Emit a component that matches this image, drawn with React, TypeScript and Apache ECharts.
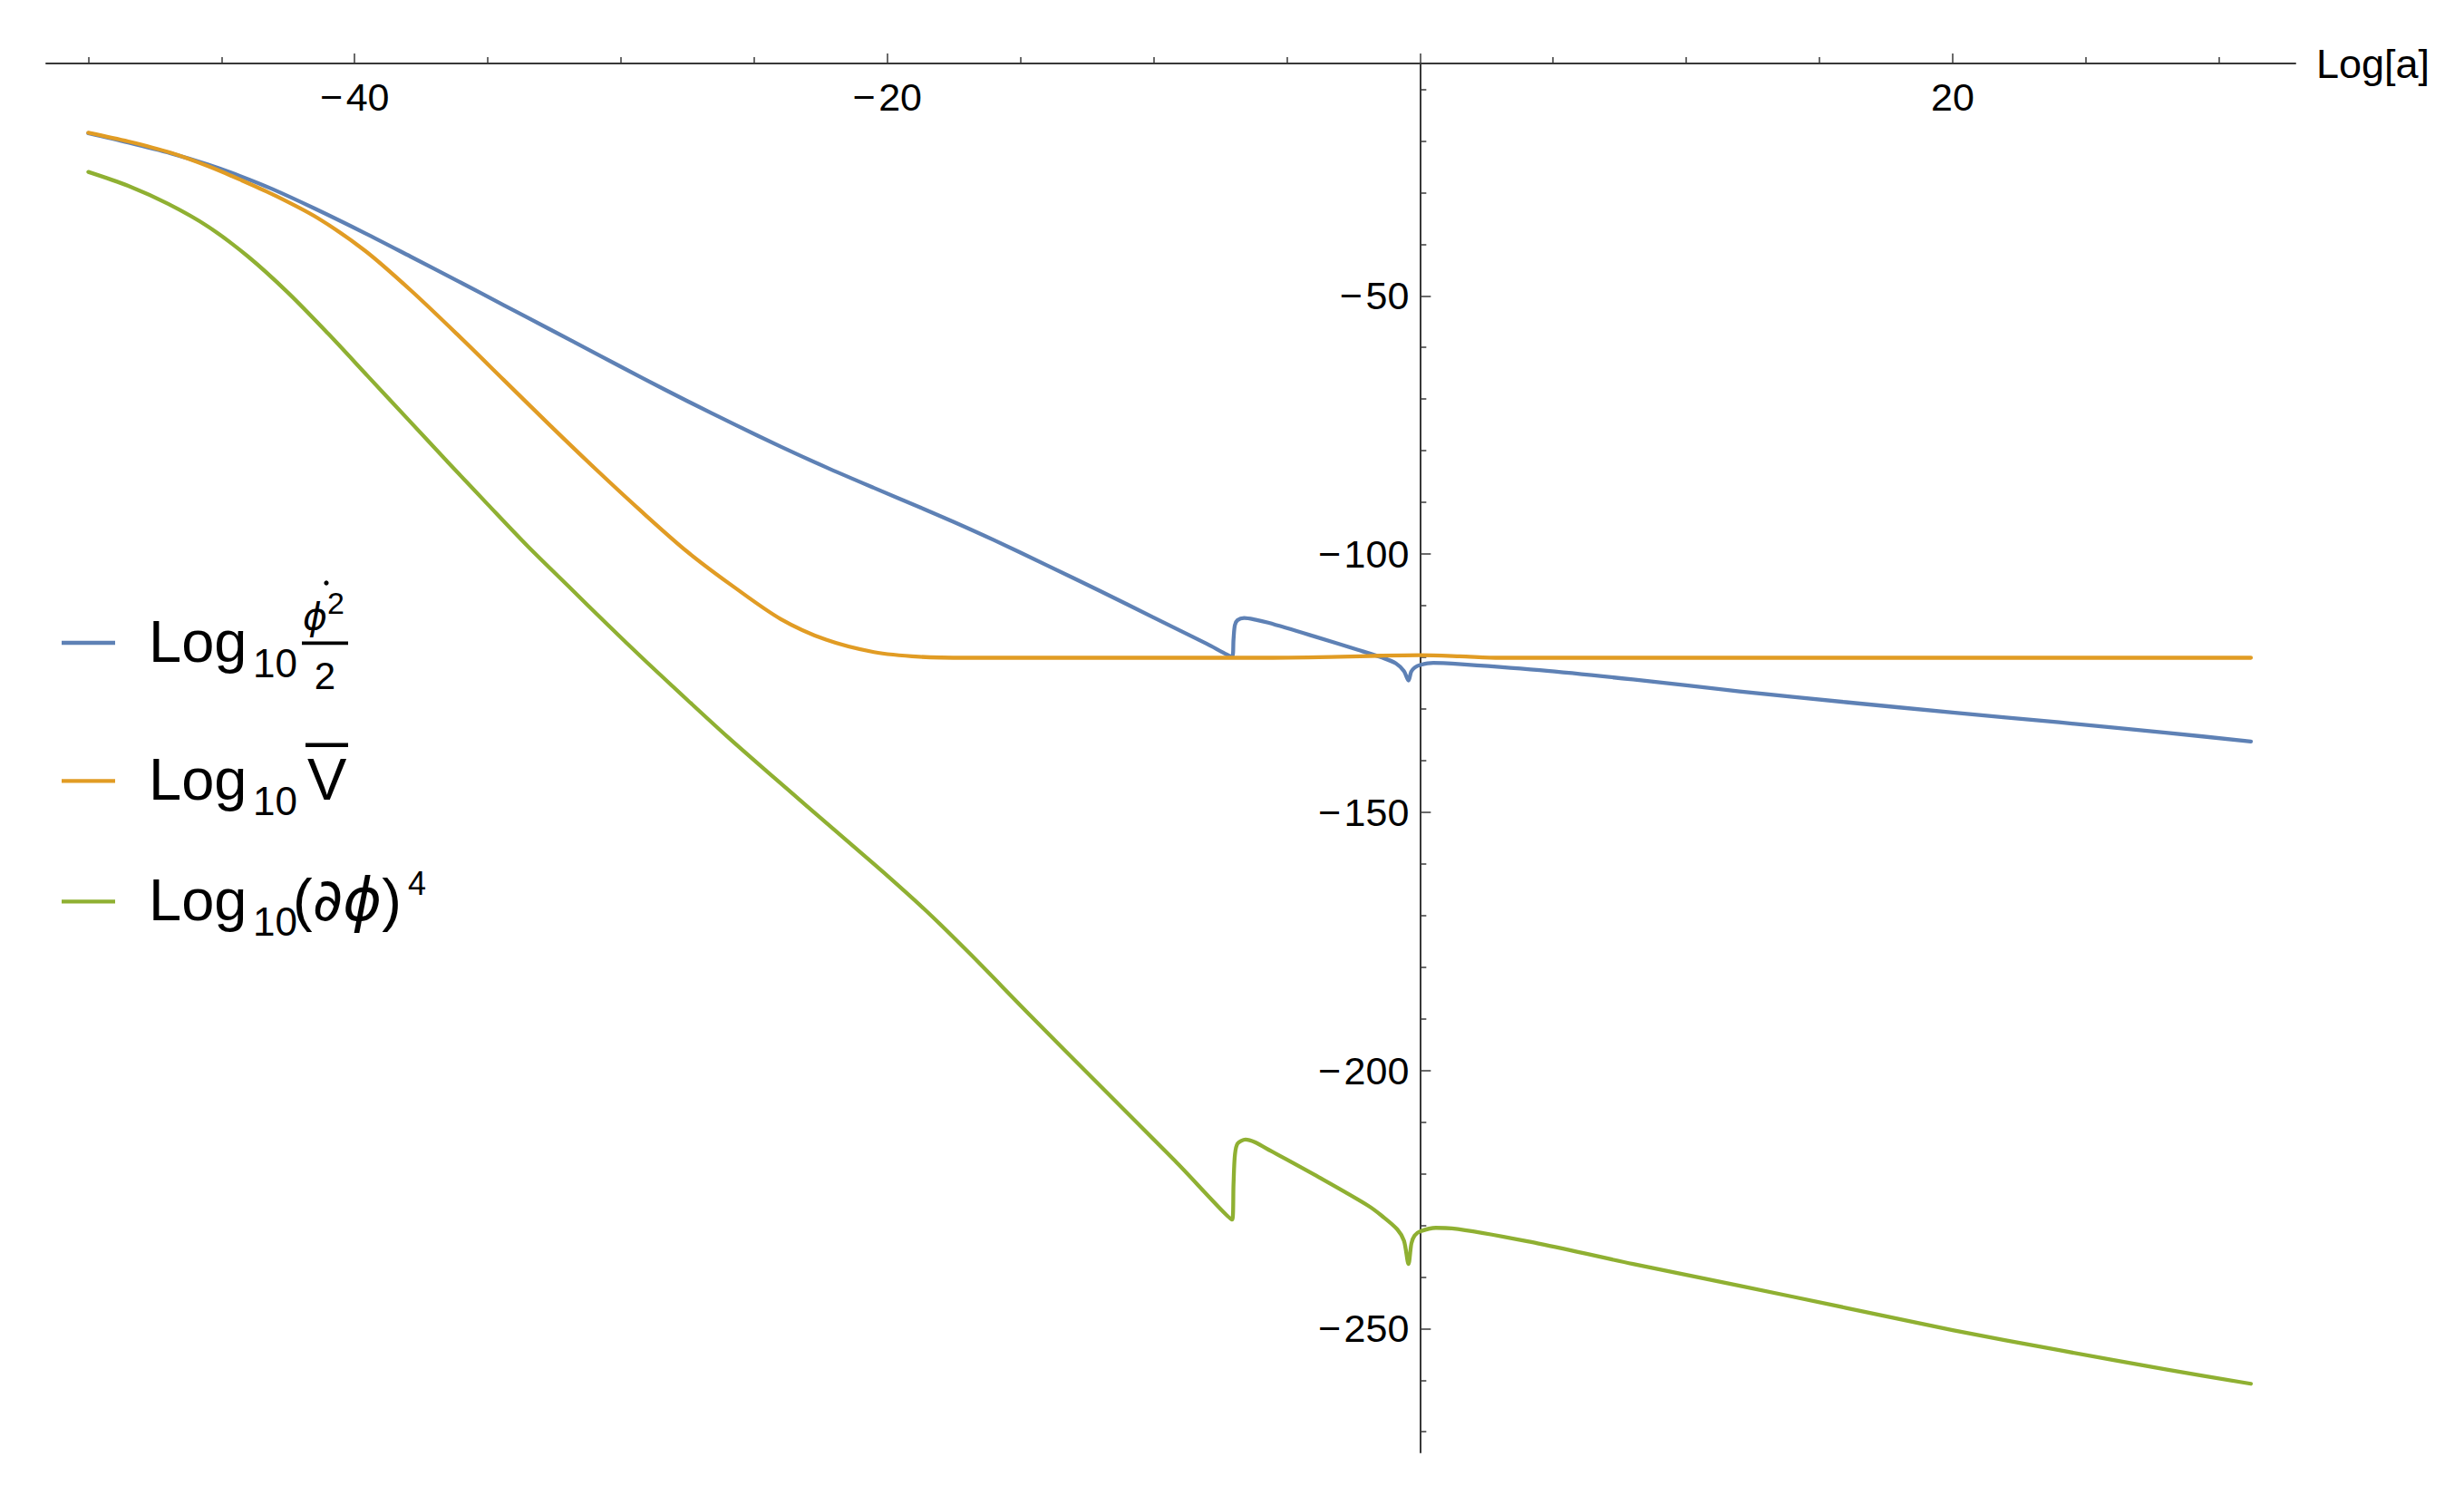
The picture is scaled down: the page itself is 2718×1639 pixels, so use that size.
import React, { useEffect, useRef } from "react";
import * as echarts from "echarts";

const FONT = "'Liberation Sans', Arial, Helvetica, sans-serif";
const MATH_FONT = "'DejaVu Sans', 'Liberation Sans', sans-serif";

// ---- data ----
const blueX = [-50, -48.5, -46.9, -45.5, -44.3, -43.1, -41.5, -39.6, -37.9, -36.1, -34.4, -32.7, -30.9, -29.2, -27.5, -25.7, -24, -22.3, -20.5, -18.8, -17.5, -16, -14, -12, -10, -8, -7.05, -7, -6.95, -6.85, -6.6, -6.2, -5.7, -4, -2.3, -1.4, -0.9, -0.6, -0.43, -0.33, -0.2, 0, 0.5, 1.2, 4.5, 8, 12, 16, 20, 24, 28, 31.2];
const blueY = [-18.5, -20.3, -22.4, -24.6, -26.8, -29.3, -33.1, -37.9, -42.4, -47.2, -51.8, -56.4, -61.3, -65.9, -70.4, -75.0, -79.2, -83.2, -87.2, -90.9, -93.8, -97.3, -102.2, -107.2, -112.3, -117.4, -119.9, -116.5, -113.8, -112.8, -112.4, -112.7, -113.3, -115.9, -118.6, -120.1, -121.2, -122.7, -124.5, -122.8, -122.0, -121.5, -121.1, -121.2, -122.5, -124.3, -126.6, -128.7, -130.7, -132.6, -134.6, -136.3];

const orangeX = [-50, -48.5, -46.9, -45.5, -44.3, -43.1, -41.4, -39.6, -37.9, -36.1, -34.4, -32.7, -30.9, -29.2, -27.5, -25.7, -24, -22.3, -20.5, -18.8, -17, -12, -6, -3, -1.5, 0, 1.5, 3, 31.2];
const orangeY = [-18.4, -20.1, -22.3, -24.9, -27.5, -30.3, -34.9, -41.3, -48.9, -57.7, -66.3, -74.9, -83.8, -91.9, -99.6, -106.6, -112.6, -116.6, -119.0, -119.9, -120.1, -120.1, -120.1, -119.9, -119.7, -119.6, -119.8, -120.1, -120.1];

const greenX = [-50, -48.5, -47, -45.5, -44, -42.5, -41, -39.5, -38, -36.5, -35, -33.5, -32, -30.5, -29, -27.5, -26, -24.5, -23, -21.5, -20, -18.5, -16.9, -14.7, -11.95, -9.2, -7.05, -7, -6.95, -6.85, -6.55, -6.2, -5.6, -3.8, -1.95, -1.4, -0.85, -0.6, -0.43, -0.32, -0.2, 0, 0.6, 1.2, 4.5, 8, 12, 16, 20, 24, 28, 31.2];
const greenY = [-26.0, -28.7, -32.2, -36.6, -42.4, -49.4, -57.3, -65.6, -73.9, -82.2, -90.4, -98.5, -106.1, -113.7, -121.1, -128.3, -135.4, -142.2, -148.9, -155.6, -162.3, -169.3, -177.4, -189.0, -203.3, -217.5, -228.9, -222.0, -216.5, -214.2, -213.4, -213.9, -215.6, -220.7, -226.2, -228.3, -230.8, -233.0, -237.5, -233.5, -232.0, -231.2, -230.5, -230.6, -233.6, -237.5, -241.7, -246.0, -250.3, -254.2, -257.9, -260.7];

// ---- ticks ----
const xMajorTicks = [-40, -20, 0, 20];
const xLabelValues = [-40, -20, 20];
const xMinorTicks = [-50, -45, -35, -30, -25, -15, -10, -5, 5, 10, 15, 25, 30];
const yLabelValues = [-250, -200, -150, -100, -50];
const yMinorTicks = [-270, -260, -240, -230, -220, -210, -190, -180, -170, -160, -140, -130, -120, -110, -90, -80, -70, -60, -40, -30, -20, -10];

const X_MIN = -51.58;
const X_MAX = 32.87;
const Y_MIN = -274;
const Y_MAX = -5;

const COLORS = { blue: "#5E81B5", orange: "#E19C24", green: "#8FB032" };
const AXIS_COLOR = "#383838";

const GRID = { left: 51, top: 70, width: 2481, height: 1532 };

const fmt = (v: number) => (v < 0 ? "\u2212\u200A" + Math.abs(v) : String(v));

function txt(text: string, x: number, y: number, size: number, opts: any = {}) {
  const align = opts.align || "left";
  return {
    type: "text",
    silent: true,
    style: {
      text,
      x,
      y,
      fill: "#000",
      fontSize: size,
      fontFamily: opts.family || FONT,
      fontStyle: opts.italic ? "italic" : "normal",
      align,
      textAlign: align,
      verticalAlign: "middle",
      textVerticalAlign: "middle",
      rich: opts.rich,
    },
  };
}

// baseline -> middle (central) conversion for Liberation Sans
const mid = (baseline: number, size: number) => baseline - 0.3465 * size;

function legendGraphics() {
  const els: any[] = [];
  const line = (y: number, color: string) => ({
    type: "line",
    silent: true,
    shape: { x1: 68, y1: y, x2: 127, y2: y },
    style: { stroke: color, lineWidth: 4.3 },
  });
  const bar = (x1: number, x2: number, y: number, w: number) => ({
    type: "line",
    silent: true,
    shape: { x1, y1: y, x2, y2: y },
    style: { stroke: "#000", lineWidth: w },
  });
  // item 1
  els.push(line(709, COLORS.blue));
  els.push(txt("Log", 164, mid(730, 65), 65));
  els.push(txt("10", 279, mid(746.7, 44), 44));
  els.push(txt("\u03D5", 334, mid(694, 41), 41, { italic: true, family: MATH_FONT }));
  els.push({ type: "circle", silent: true, shape: { cx: 360, cy: 643, r: 2.6 }, style: { fill: "#000" } });
  els.push(txt("2", 361, mid(677, 34), 34));
  els.push(bar(333, 384, 709.3, 3.8));
  els.push(txt("2", 358.5, mid(760, 42), 42, { align: "center" }));
  // item 2
  els.push(line(861.3, COLORS.orange));
  els.push(txt("Log", 164, mid(881.7, 65), 65));
  els.push(txt("10", 279, mid(898.3, 44), 44));
  els.push(txt("V", 360.7, mid(881.7, 65), 65, { align: "center" }));
  els.push(bar(337, 384, 821.7, 4.5));
  // item 3
  els.push(line(994.3, COLORS.green));
  els.push(txt("Log", 164, mid(1015, 65), 65));
  els.push(txt("10", 279, mid(1031.7, 44), 44));
  els.push(
    txt("{n|(}{i|\u2202\u03D5}{n|)}", 323, mid(1015, 65), 65, {
      rich: {
        n: { fontSize: 65, fontFamily: FONT, fill: "#000", color: "#000" },
        i: { fontSize: 65, fontFamily: MATH_FONT, fontStyle: "italic", fill: "#000", color: "#000" },
      },
    })
  );
  els.push(txt("4", 450, mid(986.7, 36), 36));
  return els;
}

function makeSeries(name: string, xs: number[], ys: number[], color: string) {
  return {
    type: "line",
    name,
    xAxisIndex: 0,
    yAxisIndex: 0,
    data: xs.map((x, i) => [x, ys[i]]),
    showSymbol: false,
    symbol: "none",
    silent: true,
    smooth: 0.3,
    lineStyle: { color, width: 4.3, join: "round", cap: "round" },
    itemStyle: { color },
  };
}

export default function App() {
  const ref = useRef<HTMLDivElement>(null);
  useEffect(() => {
    if (!ref.current) return;
    const chart = echarts.init(ref.current, undefined, { renderer: "svg" });
    const yOffset = -((0 - X_MIN) / (X_MAX - X_MIN)) * GRID.width;
    const labelStyle = { fontSize: 43, color: "#000", fontFamily: FONT };
    const option: any = {
      animation: false,
      backgroundColor: "#ffffff",
      grid: { ...GRID, containLabel: false, outerBoundsMode: "none" },
      xAxis: [
        {
          type: "value",
          min: X_MIN,
          max: X_MAX,
          position: "top",
          name: "Log[a]",
          nameLocation: "end",
          nameGap: 23,
          nameTextStyle: { fontSize: 45, color: "#000", fontFamily: FONT, padding: [0, 0, 8, 0] },
          axisLine: { show: true, onZero: false, lineStyle: { color: AXIS_COLOR, width: 2 } },
          axisTick: { show: true, inside: false, length: 11, customValues: xMajorTicks, lineStyle: { color: AXIS_COLOR, width: 1.5 } },
          axisLabel: { show: true, inside: true, margin: 15, customValues: xLabelValues, formatter: fmt, ...labelStyle },
          splitLine: { show: false },
        },
        {
          type: "value",
          min: X_MIN,
          max: X_MAX,
          position: "top",
          axisLine: { show: false, onZero: false },
          axisTick: { show: true, inside: false, length: 7, customValues: xMinorTicks, lineStyle: { color: AXIS_COLOR, width: 1.5 } },
          axisLabel: { show: false },
          splitLine: { show: false },
        },
      ],
      yAxis: [
        {
          type: "value",
          min: Y_MIN,
          max: Y_MAX,
          position: "left",
          offset: yOffset,
          axisLine: { show: true, onZero: false, lineStyle: { color: AXIS_COLOR, width: 2 } },
          axisTick: { show: true, inside: true, length: 12, customValues: yLabelValues, lineStyle: { color: AXIS_COLOR, width: 1.5 } },
          axisLabel: { show: true, margin: 12, customValues: yLabelValues, formatter: fmt, padding: [6, 0, 0, 0], ...labelStyle },
          splitLine: { show: false },
        },
        {
          type: "value",
          min: Y_MIN,
          max: Y_MAX,
          position: "left",
          offset: yOffset,
          axisLine: { show: false, onZero: false },
          axisTick: { show: true, inside: true, length: 7, customValues: yMinorTicks, lineStyle: { color: AXIS_COLOR, width: 1.5 } },
          axisLabel: { show: false },
          splitLine: { show: false },
        },
      ],
      series: [
        makeSeries("Log10 phi-dot^2/2", blueX, blueY, COLORS.blue),
        makeSeries("Log10 V-bar", orangeX, orangeY, COLORS.orange),
        makeSeries("Log10 (d phi)^4", greenX, greenY, COLORS.green),
      ],
      graphic: { elements: legendGraphics() },
    };
    chart.setOption(option);
    return () => chart.dispose();
  }, []);
  return (
    <div
      ref={ref}
      style={{ position: "fixed", left: 0, top: 0, width: 2718, height: 1639, background: "#fff" }}
    />
  );
}
